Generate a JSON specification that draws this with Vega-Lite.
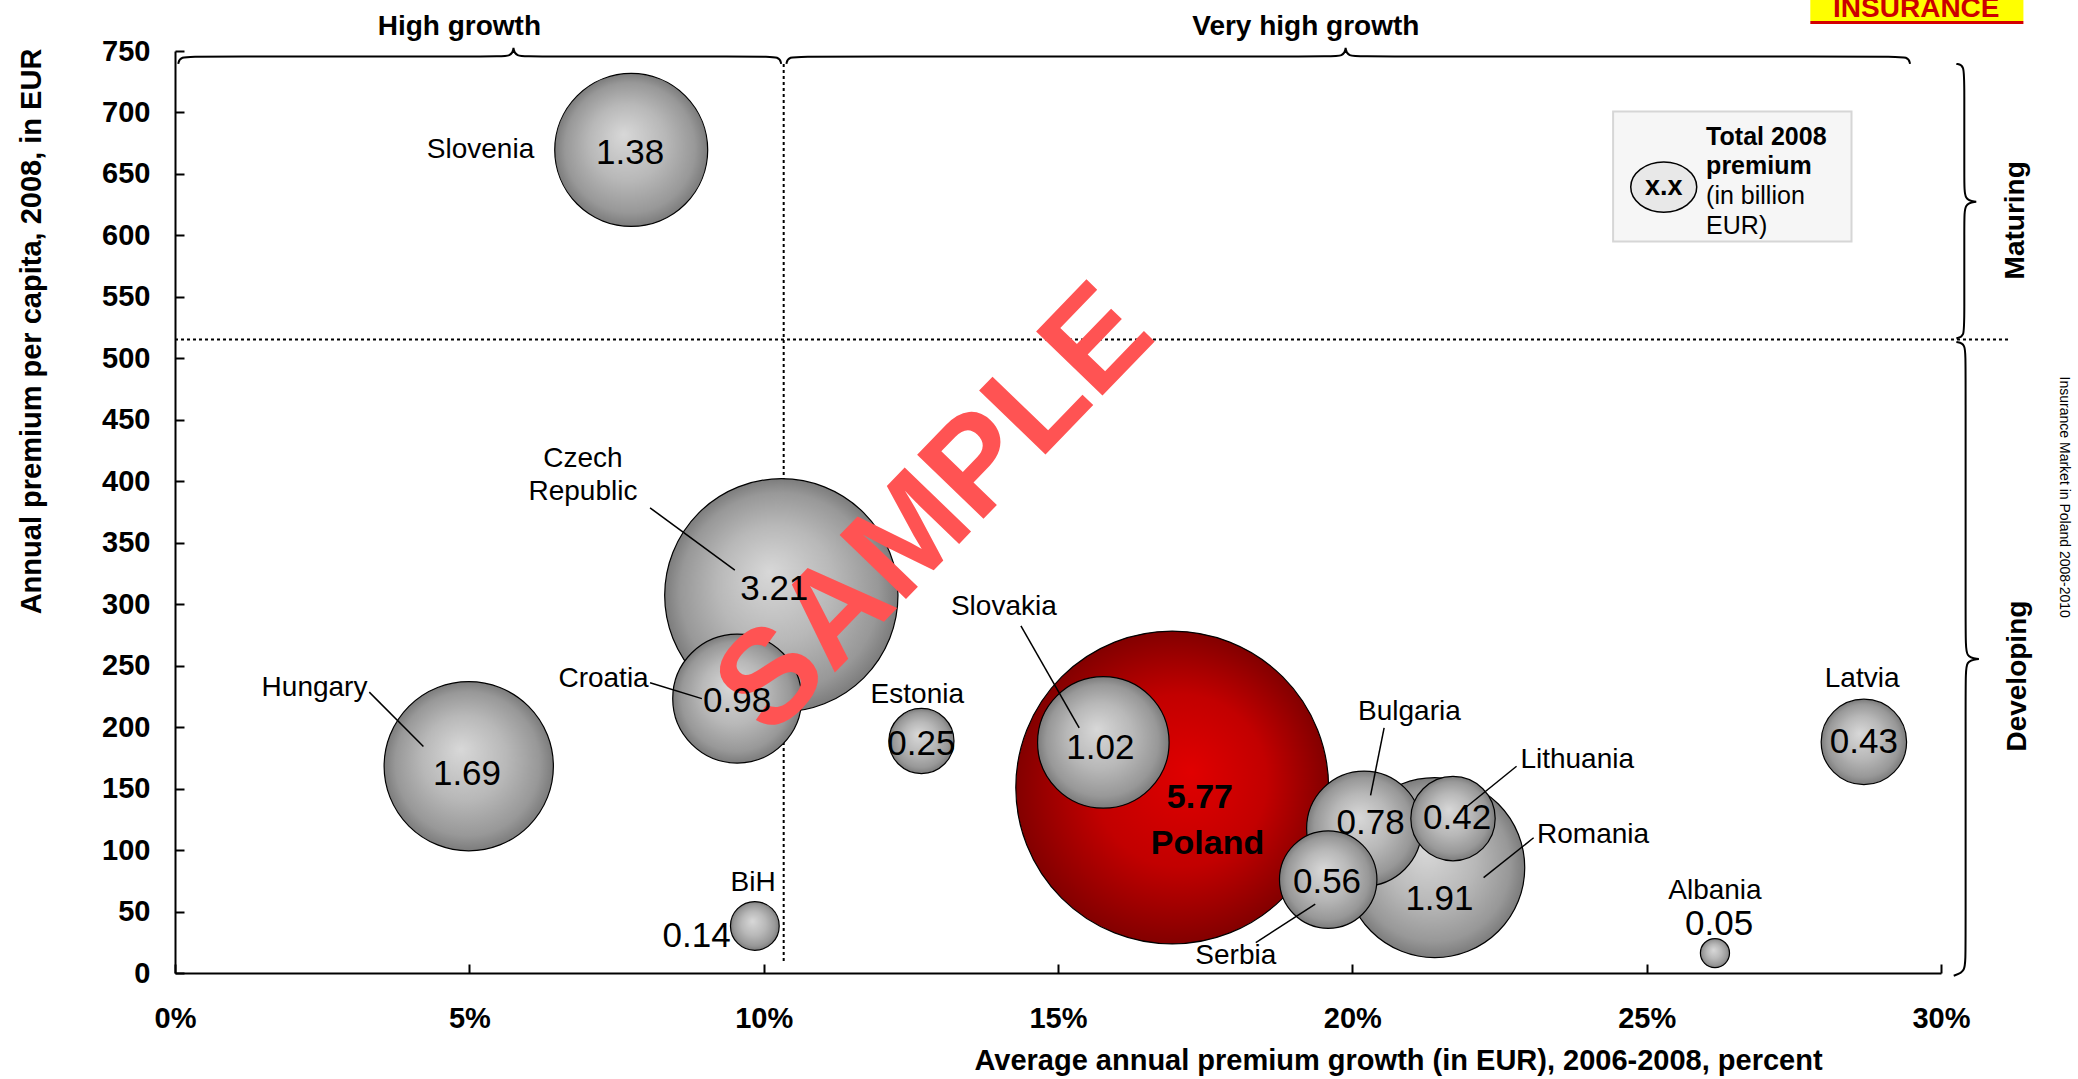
{
  "$schema": "https://vega.github.io/schema/vega-lite/v6.json",
  "width": 1766,
  "height": 922,
  "autosize": "none",
  "padding": {"left": 175, "top": 51, "right": 137, "bottom": 106},
  "background": "white",
  "config": {"view": {"stroke": null}, "font": "Liberation Sans", "text": {"font": "Liberation Sans", "color": "black"}},
  "datasets": {
    "bubbles": [
      {"country": "Poland", "x": 16.94, "y": 150.9, "premium": 5.77},
      {"country": "Czech Republic", "x": 10.30, "y": 307.2, "premium": 3.21},
      {"country": "Romania", "x": 21.40, "y": 85.7, "premium": 1.91},
      {"country": "Hungary", "x": 4.99, "y": 168.2, "premium": 1.69},
      {"country": "Slovenia", "x": 7.75, "y": 669.5, "premium": 1.38},
      {"country": "Slovakia", "x": 15.77, "y": 187.6, "premium": 1.02},
      {"country": "Croatia", "x": 9.55, "y": 223.2, "premium": 0.98},
      {"country": "Bulgaria", "x": 20.20, "y": 117.5, "premium": 0.78},
      {"country": "Serbia", "x": 19.59, "y": 76.0, "premium": 0.56},
      {"country": "Latvia", "x": 28.69, "y": 188.0, "premium": 0.43},
      {"country": "Lithuania", "x": 21.71, "y": 125.6, "premium": 0.42},
      {"country": "Estonia", "x": 12.68, "y": 188.7, "premium": 0.25},
      {"country": "BiH", "x": 9.85, "y": 38.3, "premium": 0.14},
      {"country": "Albania", "x": 26.16, "y": 16.2, "premium": 0.05}
    ],
    "valueLabels": [
      {"label": "1.38", "x": 7.73, "y": 667.3},
      {"label": "3.21", "x": 10.18, "y": 312.6},
      {"label": "0.98", "x": 9.55, "y": 221.0},
      {"label": "1.69", "x": 4.96, "y": 161.7},
      {"label": "0.25", "x": 12.68, "y": 186.5},
      {"label": "1.02", "x": 15.72, "y": 183.3},
      {"label": "0.78", "x": 20.31, "y": 121.8},
      {"label": "0.42", "x": 21.78, "y": 126.1},
      {"label": "1.91", "x": 21.48, "y": 60.4},
      {"label": "0.56", "x": 19.57, "y": 74.4},
      {"label": "0.43", "x": 28.69, "y": 187.6},
      {"label": "0.14", "x": 8.86, "y": 30.2},
      {"label": "0.05", "x": 26.23, "y": 39.9}
    ],
    "polandLabels": [
      {"label": "5.77", "x": 17.41, "y": 142.3},
      {"label": "Poland", "x": 17.54, "y": 104.6}
    ],
    "countryLabels": [
      {"label": "Slovenia", "x": 5.19, "y": 669.5},
      {"label": "Czech\nRepublic", "x": 6.93, "y": 418.3},
      {"label": "Hungary", "x": 2.37, "y": 231.8},
      {"label": "Croatia", "x": 7.28, "y": 239.3},
      {"label": "Estonia", "x": 12.61, "y": 226.4},
      {"label": "BiH", "x": 9.82, "y": 73.3},
      {"label": "Slovakia", "x": 14.08, "y": 297.5},
      {"label": "Bulgaria", "x": 20.97, "y": 212.4},
      {"label": "Lithuania", "x": 23.82, "y": 173.6},
      {"label": "Romania", "x": 24.09, "y": 112.1},
      {"label": "Serbia", "x": 18.02, "y": 14.0},
      {"label": "Latvia", "x": 28.66, "y": 239.3},
      {"label": "Albania", "x": 26.16, "y": 66.8}
    ],
    "leaders": [
      {"x": 8.07, "y": 378.4, "x2": 9.51, "y2": 327.7},
      {"x": 8.07, "y": 236.1, "x2": 8.95, "y2": 223.2},
      {"x": 3.30, "y": 228.5, "x2": 4.22, "y2": 184.3},
      {"x": 14.37, "y": 282.4, "x2": 15.36, "y2": 199.4},
      {"x": 20.54, "y": 199.4, "x2": 20.31, "y2": 144.5},
      {"x": 22.79, "y": 168.2, "x2": 21.93, "y2": 134.8},
      {"x": 23.08, "y": 110.0, "x2": 22.23, "y2": 77.6},
      {"x": 18.36, "y": 24.8, "x2": 19.37, "y2": 56.1}
    ],
    "dotted": [
      {"x": 10.34, "y": 9.7, "x2": 10.34, "y2": 741},
      {"x": 0, "y": 515.3, "x2": 31.18, "y2": 515.3}
    ],
    "braces": [
      {"b": "h1", "i": 1, "x": 0.056, "y": 739.5},
      {"b": "h1", "i": 2, "x": 0.079, "y": 745.5},
      {"b": "h1", "i": 3, "x": 0.394, "y": 745.5},
      {"b": "h1", "i": 4, "x": 5.413, "y": 745.5},
      {"b": "h1", "i": 5, "x": 5.728, "y": 745.5},
      {"b": "h1", "i": 6, "x": 5.750, "y": 752.5},
      {"b": "h1", "i": 7, "x": 5.750, "y": 752.5},
      {"b": "h1", "i": 8, "x": 5.750, "y": 752.5},
      {"b": "h1", "i": 9, "x": 5.773, "y": 745.5},
      {"b": "h1", "i": 10, "x": 6.088, "y": 745.5},
      {"b": "h1", "i": 11, "x": 9.960, "y": 745.5},
      {"b": "h1", "i": 12, "x": 10.275, "y": 745.5},
      {"b": "h1", "i": 13, "x": 10.297, "y": 739.5},
      {"b": "h2", "i": 1, "x": 10.387, "y": 739.5},
      {"b": "h2", "i": 2, "x": 10.409, "y": 745.5},
      {"b": "h2", "i": 3, "x": 10.725, "y": 745.5},
      {"b": "h2", "i": 4, "x": 19.548, "y": 745.5},
      {"b": "h2", "i": 5, "x": 19.863, "y": 745.5},
      {"b": "h2", "i": 6, "x": 19.886, "y": 752.5},
      {"b": "h2", "i": 7, "x": 19.886, "y": 752.5},
      {"b": "h2", "i": 8, "x": 19.886, "y": 752.5},
      {"b": "h2", "i": 9, "x": 19.908, "y": 745.5},
      {"b": "h2", "i": 10, "x": 20.223, "y": 745.5},
      {"b": "h2", "i": 11, "x": 29.136, "y": 745.5},
      {"b": "h2", "i": 12, "x": 29.451, "y": 745.5},
      {"b": "h2", "i": 13, "x": 29.473, "y": 739.5},
      {"b": "v1", "i": 1, "x": 30.261, "y": 739.5},
      {"b": "v1", "i": 2, "x": 30.396, "y": 738.5},
      {"b": "v1", "i": 3, "x": 30.396, "y": 723.4},
      {"b": "v1", "i": 4, "x": 30.396, "y": 643.6},
      {"b": "v1", "i": 5, "x": 30.396, "y": 628.5},
      {"b": "v1", "i": 6, "x": 30.598, "y": 627.4},
      {"b": "v1", "i": 7, "x": 30.598, "y": 627.4},
      {"b": "v1", "i": 8, "x": 30.598, "y": 627.4},
      {"b": "v1", "i": 9, "x": 30.396, "y": 626.3},
      {"b": "v1", "i": 10, "x": 30.396, "y": 611.2},
      {"b": "v1", "i": 11, "x": 30.396, "y": 531.5},
      {"b": "v1", "i": 12, "x": 30.396, "y": 517.5},
      {"b": "v1", "i": 13, "x": 30.261, "y": 516.4},
      {"b": "v2", "i": 1, "x": 30.261, "y": 513.2},
      {"b": "v2", "i": 2, "x": 30.418, "y": 512.1},
      {"b": "v2", "i": 3, "x": 30.418, "y": 497.0},
      {"b": "v2", "i": 4, "x": 30.418, "y": 271.7},
      {"b": "v2", "i": 5, "x": 30.418, "y": 256.6},
      {"b": "v2", "i": 6, "x": 30.643, "y": 255.5},
      {"b": "v2", "i": 7, "x": 30.643, "y": 255.5},
      {"b": "v2", "i": 8, "x": 30.643, "y": 255.5},
      {"b": "v2", "i": 9, "x": 30.418, "y": 254.4},
      {"b": "v2", "i": 10, "x": 30.418, "y": 239.3},
      {"b": "v2", "i": 11, "x": 30.418, "y": 15.1},
      {"b": "v2", "i": 12, "x": 30.418, "y": 1.1},
      {"b": "v2", "i": 13, "x": 30.216, "y": -2.2}
    ],
    "headers": [
      {"label": "High growth", "x": 4.83, "y": 769.7},
      {"label": "Very high growth", "x": 19.21, "y": 769.7}
    ],
    "sideHeaders": [
      {"label": "Maturing", "x": 31.27, "y": 612.3},
      {"label": "Developing", "x": 31.30, "y": 241.5}
    ],
    "source": [{"label": "Insurance Market in Poland 2008-2010", "x": 32.09, "y": 387.0}],
    "legendBox": [{"x": 24.43, "x2": 28.48, "y": 700.7, "y2": 595.1}],
    "legendSymbol": [{"label": "x.x", "x": 25.29, "y": 639.3}],
    "legendBold": [
      {"label": "Total 2008", "x": 26.01, "y": 680.2},
      {"label": "premium", "x": 26.01, "y": 656.5}
    ],
    "legendRegular": [
      {"label": "(in billion", "x": 26.01, "y": 631.7},
      {"label": "EUR)", "x": 26.01, "y": 608.0}
    ],
    "banner": [{"x": 27.78, "x2": 31.4, "y": 791.5, "y2": 774.4}],
    "bannerLine": [{"x": 27.78, "x2": 31.4, "y": 773.2}],
    "bannerText": [{"label": "INSURANCE", "x": 29.58, "y": 777.9}],
    "watermark": [{"label": "SAMPLE", "x": 12.92, "y": 376.0}]
  },
  "encoding": {
    "x": {
      "field": "x", "type": "quantitative",
      "scale": {"domain": [0, 30], "nice": false, "zero": false},
      "axis": {
        "values": [0, 5, 10, 15, 20, 25, 30],
        "labelExpr": "datum.value + '%'",
        "labelFlush": false,
        "labelFontSize": 29, "labelFontWeight": "bold", "labelColor": "black",
        "labelPadding": 40,
        "tickSize": -9, "tickWidth": 2, "tickColor": "black",
        "domainWidth": 2, "domainColor": "black",
        "grid": false,
        "title": "Average annual premium growth (in EUR), 2006-2008, percent",
        "titleFontSize": 29, "titleFontWeight": "bold", "titleColor": "black",
        "titleX": 1223, "titleY": 96, "titleAlign": "center", "titleBaseline": "alphabetic"
      }
    },
    "y": {
      "field": "y", "type": "quantitative",
      "scale": {"domain": [0, 750], "nice": false, "zero": false},
      "axis": {
        "values": [0, 50, 100, 150, 200, 250, 300, 350, 400, 450, 500, 550, 600, 650, 700, 750],
        "labelFontSize": 29, "labelFontWeight": "bold", "labelColor": "black",
        "labelPadding": 34,
        "tickSize": -9, "tickWidth": 2, "tickColor": "black",
        "domainWidth": 2, "domainColor": "black",
        "grid": false,
        "title": "Annual premium per capita, 2008, in EUR",
        "titleFontSize": 29, "titleFontWeight": "bold", "titleColor": "black",
        "titleAngle": -90, "titleX": -135, "titleY": 280, "titleAlign": "center", "titleBaseline": "alphabetic"
      }
    }
  },
  "layer": [
    {
      "data": {"name": "legendBox"},
      "mark": {"type": "rect", "fill": "#f6f6f6", "stroke": "#d6d6d6", "strokeWidth": 2},
      "encoding": {"x2": {"field": "x2"}, "y2": {"field": "y2"}}
    },
    {
      "data": {"name": "banner"},
      "mark": {"type": "rect", "fill": "#ffff00"},
      "encoding": {"x2": {"field": "x2"}, "y2": {"field": "y2"}}
    },
    {
      "data": {"name": "bannerLine"},
      "mark": {"type": "rule", "stroke": "#d40000", "strokeWidth": 3},
      "encoding": {"x2": {"field": "x2"}}
    },
    {
      "data": {"name": "bannerText"},
      "mark": {"type": "text", "fontSize": 28, "fontWeight": "bold", "color": "#cc0000", "align": "center", "baseline": "alphabetic"},
      "encoding": {"text": {"field": "label"}}
    },
    {
      "data": {"name": "dotted"},
      "mark": {"type": "rule", "stroke": "black", "strokeWidth": 2, "strokeDash": [3, 3]},
      "encoding": {"x2": {"field": "x2"}, "y2": {"field": "y2"}}
    },
    {
      "data": {"name": "braces"},
      "mark": {"type": "line", "interpolate": "basis", "stroke": "black", "strokeWidth": 2},
      "encoding": {"detail": {"field": "b"}, "order": {"field": "i", "type": "quantitative"}}
    },
    {
      "data": {"name": "bubbles"},
      "transform": [{"filter": "datum.country === 'Poland'"}],
      "mark": {
        "type": "circle", "opacity": 1, "stroke": "black", "strokeWidth": 1.2,
        "fill": {"gradient": "radial", "x1": 0.56, "y1": 0.45, "r1": 0, "x2": 0.5, "y2": 0.5, "r2": 0.5,
          "stops": [{"offset": 0, "color": "#e00000"}, {"offset": 0.55, "color": "#c20000"}, {"offset": 1, "color": "#830000"}]}
      },
      "encoding": {"size": {"field": "premium", "type": "quantitative", "scale": {"domain": [0, 5.77], "range": [0, 97844]}, "legend": null}}
    },
    {
      "data": {"name": "bubbles"},
      "transform": [{"filter": "datum.country !== 'Poland'"}],
      "mark": {
        "type": "circle", "opacity": 1, "stroke": "black", "strokeWidth": 1.2,
        "fill": {"gradient": "radial", "x1": 0.45, "y1": 0.4, "r1": 0, "x2": 0.5, "y2": 0.5, "r2": 0.5,
          "stops": [{"offset": 0, "color": "#d8d8d8"}, {"offset": 0.5, "color": "#b8b8b8"}, {"offset": 0.85, "color": "#989898"}, {"offset": 1, "color": "#7c7c7c"}]}
      },
      "encoding": {
        "size": {"field": "premium", "type": "quantitative", "scale": {"domain": [0, 5.77], "range": [0, 97844]}, "legend": null},
        "order": {"field": "premium", "type": "quantitative", "sort": "descending"}
      }
    },
    {
      "data": {"name": "watermark"},
      "mark": {"type": "text", "fontSize": 134, "fontWeight": "bold", "color": "#ff5353", "align": "center", "baseline": "middle", "angle": -46},
      "encoding": {"text": {"field": "label"}}
    },
    {
      "data": {"name": "leaders"},
      "mark": {"type": "rule", "stroke": "black", "strokeWidth": 1.5},
      "encoding": {"x2": {"field": "x2"}, "y2": {"field": "y2"}}
    },
    {
      "data": {"name": "countryLabels"},
      "mark": {"type": "text", "fontSize": 28, "align": "center", "baseline": "middle", "lineBreak": "\n", "lineHeight": 33},
      "encoding": {"text": {"field": "label"}}
    },
    {
      "data": {"name": "valueLabels"},
      "mark": {"type": "text", "fontSize": 35, "align": "center", "baseline": "middle"},
      "encoding": {"text": {"field": "label"}}
    },
    {
      "data": {"name": "polandLabels"},
      "mark": {"type": "text", "fontSize": 34, "fontWeight": "bold", "align": "center", "baseline": "middle"},
      "encoding": {"text": {"field": "label"}}
    },
    {
      "data": {"name": "headers"},
      "mark": {"type": "text", "fontSize": 28, "fontWeight": "bold", "align": "center", "baseline": "middle"},
      "encoding": {"text": {"field": "label"}}
    },
    {
      "data": {"name": "sideHeaders"},
      "mark": {"type": "text", "fontSize": 28, "fontWeight": "bold", "align": "center", "baseline": "middle", "angle": -90},
      "encoding": {"text": {"field": "label"}}
    },
    {
      "data": {"name": "source"},
      "mark": {"type": "text", "fontSize": 14, "align": "center", "baseline": "middle", "angle": 90},
      "encoding": {"text": {"field": "label"}}
    },
    {
      "data": {"name": "legendSymbol"},
      "mark": {"type": "point", "shape": "M -1 0 A 1 0.76 0 1 1 1 0 A 1 0.76 0 1 1 -1 0 Z", "size": 4356, "filled": true, "fill": "#e8e8e8", "stroke": "black", "strokeWidth": 1.5, "opacity": 1}
    },
    {
      "data": {"name": "legendSymbol"},
      "mark": {"type": "text", "fontSize": 27, "fontWeight": "bold", "align": "center", "baseline": "middle"},
      "encoding": {"text": {"field": "label"}}
    },
    {
      "data": {"name": "legendBold"},
      "mark": {"type": "text", "fontSize": 25, "fontWeight": "bold", "align": "left", "baseline": "middle"},
      "encoding": {"text": {"field": "label"}}
    },
    {
      "data": {"name": "legendRegular"},
      "mark": {"type": "text", "fontSize": 25, "align": "left", "baseline": "middle"},
      "encoding": {"text": {"field": "label"}}
    }
  ]
}
